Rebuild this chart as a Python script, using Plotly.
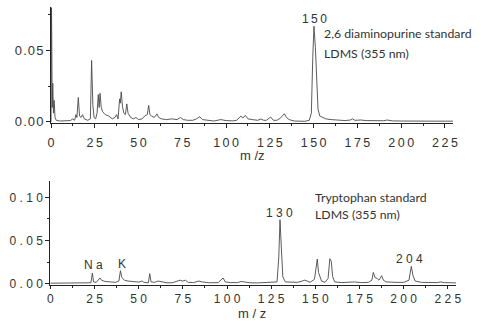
import plotly.graph_objects as go

# ---- data ----
dap_mz = [0, 0.3, 0.7, 1.0, 1.4, 1.8, 2.3, 3.0, 5, 8, 11, 12.5, 13.5, 14.2, 14.8, 15.6, 16.3, 17.2, 18.0, 19.0,
          21, 22.5, 23.2, 23.9, 24.6, 25.5, 26.3, 27.0, 27.5, 28.0, 28.7, 29.5, 31, 33, 35, 36.5, 37.5, 38.3,
          39.2, 39.6, 40.1, 40.8, 41.6, 42.5, 43.3, 44.0, 45.5, 47, 48.5, 50, 52, 53.5, 55, 55.8, 56.5, 57.5,
          59, 60.5, 61.5, 63, 66, 69, 72, 74, 75.5, 78, 81, 83, 85, 86.5, 90, 93, 97, 100, 104, 106, 108.5,
          109.5, 111, 112.5, 115, 118, 120, 121.5, 123, 125.5, 127, 129, 131, 133.3, 134.5, 136, 139, 142,
          145, 147.5, 148.7, 149.5, 150.2, 151.0, 151.7, 152.5, 153.5, 155, 157, 160, 164, 168, 171, 172.2,
          173.5, 177, 180, 185, 190, 192, 195, 200, 205, 210, 215, 220, 225, 230]
dap_int = [0.0, 0.080, 0.010, 0.027, 0.006, 0.015, 0.003, 0.001, 0.0005, 0.0005, 0.0008, 0.002, 0.001, 0.005,
           0.003, 0.017, 0.004, 0.003, 0.005, 0.002, 0.001, 0.002, 0.043, 0.012, 0.003, 0.002, 0.006, 0.019,
           0.010, 0.020, 0.010, 0.007, 0.005, 0.004, 0.002, 0.003, 0.005, 0.002, 0.016, 0.013, 0.021, 0.011,
           0.006, 0.005, 0.0125, 0.006, 0.003, 0.002, 0.003, 0.0015, 0.002, 0.004, 0.005, 0.0115, 0.005,
           0.004, 0.003, 0.0055, 0.003, 0.002, 0.0015, 0.002, 0.0015, 0.003, 0.0015, 0.001, 0.001, 0.002,
           0.0035, 0.0015, 0.0008, 0.0005, 0.0015, 0.0008, 0.0006, 0.001, 0.004, 0.0025, 0.0045, 0.002,
           0.0015, 0.001, 0.0019, 0.001, 0.001, 0.0033, 0.001, 0.001, 0.0025, 0.0056, 0.003, 0.0015, 0.0005,
           0.0003, 0.0003, 0.001, 0.006, 0.045, 0.067, 0.052, 0.025, 0.009, 0.004, 0.003, 0.002, 0.0015,
           0.001, 0.0008, 0.0012, 0.002, 0.001, 0.0012, 0.0008, 0.0006, 0.0007, 0.0012, 0.0006, 0.0005,
           0.0006, 0.0004, 0.0005, 0.0004, 0.0004, 0.0004]

trp_mz = [0, 5, 10, 15, 20, 23, 23.8, 24.5, 26, 27.3, 28.1, 29, 31, 34, 37, 38.8, 39.7, 40.5, 42, 44, 47, 50,
          52, 53, 55.5, 56.3, 57, 59, 61, 63, 66, 69, 72, 73.5, 75, 76.5, 78, 81, 84, 86, 90, 95, 97.8, 99,
          102, 106, 108, 110, 113, 117, 121, 125, 128.3, 129.3, 130, 130.8, 131.6, 133, 137, 140, 142.5, 144,
          145.5, 147, 149.5, 150.4, 151.1, 151.8, 152.5, 153.5, 155.5, 157.2, 158.2, 159.0, 159.8, 161, 165,
          170, 172, 176, 180, 182, 182.8, 183.8, 185, 186, 187.5, 188.5, 190, 195, 200, 203, 204.3, 205.3,
          206.5, 210, 215, 219, 221, 223, 227, 230]
trp_int = [0.0005, 0.0006, 0.0006, 0.0007, 0.0008, 0.001, 0.0123, 0.002, 0.0015, 0.005, 0.0066, 0.004, 0.0025,
           0.002, 0.0015, 0.003, 0.015, 0.007, 0.004, 0.003, 0.002, 0.0018, 0.003, 0.0015, 0.001, 0.0115,
           0.002, 0.0015, 0.003, 0.002, 0.001, 0.001, 0.003, 0.004, 0.003, 0.004, 0.0015, 0.0012, 0.003,
           0.002, 0.001, 0.0012, 0.0066, 0.002, 0.0012, 0.0012, 0.0025, 0.0018, 0.001, 0.0008, 0.001, 0.0015,
           0.002, 0.03, 0.074, 0.04, 0.008, 0.002, 0.0015, 0.0015, 0.003, 0.004, 0.003, 0.0015, 0.005, 0.016,
           0.0285, 0.013, 0.008, 0.003, 0.0015, 0.006, 0.0288, 0.026, 0.008, 0.002, 0.0012, 0.0015, 0.002,
           0.0012, 0.0015, 0.004, 0.013, 0.007, 0.006, 0.004, 0.0092, 0.004, 0.002, 0.0015, 0.0015, 0.004,
           0.020, 0.009, 0.003, 0.0015, 0.001, 0.0012, 0.002, 0.0012, 0.001, 0.0008]

x_ticks = [0, 25, 50, 75, 100, 125, 150, 175, 200, 225]
top_y_ticks = [0.0, 0.05]
top_y_labels = ["0.00", "0.05"]
bot_y_ticks = [0.0, 0.05, 0.10]
bot_y_labels = ["0 . 0 0", "0 . 0 5", "0 . 1 0"]

LINE = "#4a4a4a"
AX = "#222222"
TXT = "#333333"
THIN = "\u2009"
HAIR = "\u200a"

fig = go.Figure()
fig.add_trace(go.Scatter(x=dap_mz, y=dap_int, mode="lines", line=dict(color=LINE, width=0.9),
                         xaxis="x", yaxis="y", showlegend=False, hoverinfo="skip"))
fig.add_trace(go.Scatter(x=trp_mz, y=trp_int, mode="lines", line=dict(color=LINE, width=0.9),
                         xaxis="x2", yaxis="y2", showlegend=False, hoverinfo="skip"))

common_axis = dict(showgrid=False, zeroline=False, showline=True, linecolor=AX, linewidth=1,
                   ticks="outside", tickcolor=AX, tickwidth=1, automargin=False)

fig.update_layout(
    width=485, height=328,
    margin=dict(l=0, r=0, t=0, b=0),
    paper_bgcolor="white", plot_bgcolor="white",
    font=dict(family="Liberation Sans, Arial", color=TXT),
    xaxis=dict(domain=[51/485, 453/485], anchor="y", range=[0, 229.6],
               tickvals=x_ticks, ticktext=[THIN.join(list(str(v))) for v in x_ticks],
               tickfont=dict(size=12.5, color=TXT), ticklen=4, ticklabelstandoff=4,
               minor=dict(dtick=12.5, tick0=0, ticks="outside", ticklen=2, tickcolor=AX),
               **common_axis),
    yaxis=dict(domain=[1-123.3/328, 1-7/328], anchor="x", range=[-0.0011, 0.0805],
               tickvals=top_y_ticks, ticktext=[HAIR.join(list(s)) for s in top_y_labels],
               tickfont=dict(size=13, color=TXT), ticklen=4,
               minor=dict(dtick=0.025, tick0=0, ticks="outside", ticklen=2, tickcolor=AX),
               **common_axis),
    xaxis2=dict(domain=[50.3/485, 456/485], anchor="y2", range=[0, 229.6],
                tickvals=x_ticks, ticktext=[" ".join(list(str(v))) for v in x_ticks],
                tickfont=dict(size=12, color=TXT), ticklen=3,
                minor=dict(dtick=12.5, tick0=0, ticks="outside", ticklen=2, tickcolor=AX),
                **common_axis),
    yaxis2=dict(domain=[1-284.5/328, 1-180.7/328], anchor="x2", range=[-0.0010, 0.1193],
                tickvals=bot_y_ticks, ticktext=bot_y_labels, tickfont=dict(size=12, color=TXT),
                ticklen=4,
                minor=dict(dtick=0.025, tick0=0, ticks="outside", ticklen=2, tickcolor=AX),
                **common_axis),
)

def ann(text, x, y, size=12, family="Liberation Sans, Arial", xanchor="center"):
    fig.add_annotation(text=text, x=x/485, y=1-y/328, xref="paper", yref="paper",
                       showarrow=False, xanchor=xanchor, yanchor="middle",
                       font=dict(size=size, family=family, color=TXT))

ann("m /z", 252, 155, size=13)
ann("m / z", 252, 313, size=13)
ann(THIN.join("150"), 314, 19, size=12)
ann("2,6 diaminopurine standard", 322, 34, size=12.3, family="Lato", xanchor="left")
ann("LDMS (355 nm)", 322, 53, size=12.3, family="Lato", xanchor="left")
ann("Tryptophan standard", 313, 197, size=12.3, family="Lato", xanchor="left")
ann("LDMS (355 nm)", 313, 214, size=12.3, family="Lato", xanchor="left")
ann("1 3 0", 279, 213, size=12)
ann("2 0 4", 409, 259, size=12)
ann("N a", 93, 265, size=12)
ann("K", 122, 264, size=12)

fig.write_html("out.html", config={"displayModeBar": False},
               post_script="document.body.style.margin='0';")
